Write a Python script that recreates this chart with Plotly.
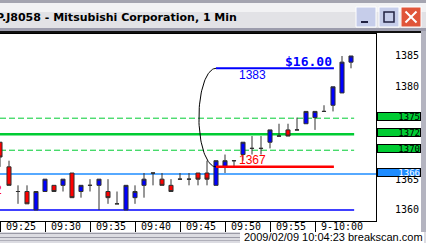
import math
import plotly.graph_objects as go

W, H = 426, 243
ML, MR, MT, MB = 0, 50, 34, 22
PW, PH = W - ML - MR, H - MT - MB
PLOT_BOTTOM = H - MB

# ---------------- data ----------------
minutes = list(range(40))  # minutes since 09:25
opens  = [1371, 1367, 1363, 1363, 1360, 1363, 1364, 1364, 1366, 1363,
          1364, 1364, 1363, 1361, 1360, 1362, 1364, 1366, 1365, 1364,
          1365, 1365, 1366, 1366, 1364, 1367, 1368, 1369, 1370, 1370,
          1371, 1372, 1373, 1373, 1374, 1375, 1376, 1377, 1379, 1384]
highs  = [1371, 1368, 1364, 1364, 1363, 1365, 1364, 1365, 1366, 1364,
          1365, 1365, 1365, 1363, 1364, 1364, 1366, 1366, 1366, 1365,
          1366, 1366, 1366, 1368, 1368, 1369, 1368, 1371, 1372, 1372,
          1373, 1374, 1374, 1375, 1376, 1376, 1377, 1380, 1385, 1385]
lows   = [1367, 1364, 1361, 1361, 1360, 1363, 1363, 1363, 1362, 1362,
          1363, 1360, 1361, 1361, 1360, 1361, 1362, 1364, 1364, 1363,
          1365, 1364, 1364, 1364, 1364, 1366, 1367, 1368, 1369, 1369,
          1370, 1372, 1372, 1373, 1374, 1373, 1376, 1376, 1379, 1383]
closes = [1368.6, 1364, 1363, 1361, 1363, 1365, 1363, 1365, 1362, 1364,
          1364, 1365, 1362, 1361, 1364, 1363, 1365, 1366, 1364, 1363,
          1365, 1365, 1365, 1365, 1368, 1368, 1368, 1371, 1370, 1370,
          1373, 1372, 1372, 1373, 1376, 1376, 1376, 1380, 1384, 1385]

tick_minutes = [0, 5, 10, 15, 20, 25, 30, 35]
tick_labels = ["09:25", "09:30", "09:35", "09:40", "09:45", "09:50", "09:55", "9-10:00"]
price_ticks = [1360, 1365, 1380, 1385]

dashed_levels = [1374.9, 1369.7]
solid_level = 1372.3
pivot_level = 1365.85
low_level = 1360.0
break_minute = 24
base_price = 1367
target_price = 1383
box_levels = [1374.9, 1372.3, 1369.7, 1365.85]
box_texts = ["1375", "1372", "1370", "1366"]
box_colors = ["#00cc33", "#00cc33", "#00cc33", "#1e8cff"]
box_text_colors = ["black", "black", "black", "white"]

title_text = "P.J8058 - Mitsubishi Corporation, 1 Min"
footer_text = "2009/02/09 10:04:23 breakscan.com"

# ---------------- layout constants ----------------
X_MIN, X_MAX = 0, PW / 9.0
Y_MIN, Y_MAX = 1358.21, 1388.57
LINE_END = minutes[-1] + 0.35
TARGET_END = 37.1
GREEN = "#00cc33"


def pp(x, y):
    return (x - ML) / PW, (PLOT_BOTTOM - y) / PH


fig = go.Figure()

fig.add_trace(go.Candlestick(
    x=minutes, open=opens, high=highs, low=lows, close=closes,
    increasing=dict(line=dict(color="#303030", width=1), fillcolor="#0000ff"),
    decreasing=dict(line=dict(color="#303030", width=1), fillcolor="#ff0000"),
    whiskerwidth=0, showlegend=False, hoverinfo="skip",
))

# arc joining base and target
n = 60
arc_x, arc_y = [], []
mid = (base_price + target_price) / 2
half = (target_price - base_price) / 2
for i in range(n + 1):
    t = math.pi * i / n
    arc_x.append(break_minute - 1.9 * math.sin(t))
    arc_y.append(mid + half * math.cos(t))
fig.add_trace(go.Scatter(x=arc_x, y=arc_y, mode="lines",
                         line=dict(color="black", width=1),
                         showlegend=False, hoverinfo="skip"))

shapes = []
for lv in dashed_levels:
    shapes.append(dict(type="line", xref="x", yref="y", x0=X_MIN, x1=LINE_END, y0=lv, y1=lv,
                       line=dict(color=GREEN, width=1, dash="6px,3px"), layer="below"))
shapes.append(dict(type="line", xref="x", yref="y", x0=X_MIN, x1=LINE_END, y0=solid_level, y1=solid_level,
                   line=dict(color=GREEN, width=2.5), layer="below"))
shapes.append(dict(type="line", xref="x", yref="y", x0=X_MIN, x1=X_MAX, y0=pivot_level, y1=pivot_level,
                   line=dict(color="#1e8cff", width=1.5), layer="below"))
shapes.append(dict(type="line", xref="x", yref="y", x0=X_MIN, x1=LINE_END, y0=low_level, y1=low_level,
                   line=dict(color="#0000ff", width=1.5), layer="below"))
shapes.append(dict(type="line", xref="x", yref="y", x0=break_minute, x1=TARGET_END, y0=base_price, y1=base_price,
                   line=dict(color="#ff0000", width=2.5)))
shapes.append(dict(type="line", xref="x", yref="y", x0=break_minute, x1=TARGET_END, y0=target_price, y1=target_price,
                   line=dict(color="#0000ff", width=2)))


def prect(x0, y0, x1, y1, fill, line_color=None, lw=0):
    a = pp(x0, y0)
    b = pp(x1, y1)
    return dict(type="rect", xref="paper", yref="paper", x0=a[0], y0=a[1], x1=b[0], y1=b[1],
                fillcolor=fill, line=dict(color=line_color or fill, width=lw), layer="above")


def pline(x0, y0, x1, y1, color, lw=1):
    a = pp(x0, y0)
    b = pp(x1, y1)
    return dict(type="line", xref="paper", yref="paper", x0=a[0], y0=a[1], x1=b[0], y1=b[1],
                line=dict(color=color, width=lw), layer="above")


# window chrome: title bar
shapes.append(prect(0, 0, W, 3, "#a4a4b0"))
shapes.append(prect(0, 3, W, 12, "#f2f2f4"))
shapes.append(prect(0, 12, W, 28, "#e2e2e6"))
shapes.append(prect(0, 28, W, 31, "#9c9cac"))
shapes.append(prect(0, 31, W, 33, "#101010"))
for bx, fill in [(356, "#c6cdea"), (379, "#c6cdea"), (401, "#e0553a")]:
    shapes.append(prect(bx, 7, bx + 20, 27, fill, "#ffffff", 1))
shapes.append(pline(361, 22, 368, 22, "#202040", 2))
shapes.append(prect(384, 12, 394, 22, "rgba(0,0,0,0)", "#202040", 1.5))
shapes.append(pline(405.5, 11.5, 416.5, 22.5, "white", 2))
shapes.append(pline(405.5, 22.5, 416.5, 11.5, "white", 2))
# right border and status bar
shapes.append(prect(421, 31, W, H, "#b4b4c0"))
shapes.append(prect(0, 232, W, H, "#dcdce2"))
shapes.append(pline(0, 233.5, 240, 233.5, "#9a9aa6", 1))
shapes.append(pline(0, 237.5, 240, 237.5, "#9a9aa6", 1))
shapes.append(pline(0, 240.5, 240, 240.5, "#b0b0ba", 1))
shapes.append(prect(240, 232, 424, H, "white"))

annotations = []
tx, ty = pp(-6, 17)
annotations.append(dict(text="<b>" + title_text + "</b>", xref="paper", yref="paper", x=tx, y=ty,
                        xanchor="left", yanchor="middle", showarrow=False,
                        font=dict(family="DejaVu Sans", size=11, color="black")))
_, ly = pp(0, 227)
for m, lab in zip(tick_minutes, tick_labels):
    annotations.append(dict(text=lab, xref="x", yref="paper", x=m, y=ly, xshift=3.5,
                            xanchor="left", yanchor="middle", showarrow=False,
                            font=dict(family="DejaVu Sans Mono", size=10, color="black")))
bx0, _ = pp(377, 0)
for lv, txt, col, tcol in zip(box_levels, box_texts, box_colors, box_text_colors):
    annotations.append(dict(text=txt, xref="paper", yref="y", x=bx0, y=lv, yshift=1.5,
                            xanchor="left", yanchor="middle", showarrow=False,
                            width=42, height=7, align="right", valign="middle",
                            bgcolor=col, bordercolor="black", borderwidth=1, borderpad=0,
                            font=dict(family="DejaVu Sans Mono", size=9, color=tcol)))
annotations.append(dict(text="<b>$%.2f</b>" % (target_price - base_price), xref="x", yref="y",
                        x=TARGET_END, y=target_price, yshift=7, xanchor="right", yanchor="middle",
                        showarrow=False, font=dict(family="DejaVu Sans Mono", size=13, color="#0000ff")))
annotations.append(dict(text=str(target_price), xref="x", yref="y", x=break_minute, xshift=21,
                        y=target_price, yshift=-7, xanchor="left", yanchor="middle", showarrow=False,
                        font=dict(family="Liberation Sans", size=12, color="#0000ff")))
annotations.append(dict(text=str(base_price), xref="x", yref="y", x=break_minute, xshift=21,
                        y=base_price, yshift=7, xanchor="left", yanchor="middle", showarrow=False,
                        font=dict(family="Liberation Sans", size=12, color="#ff0000")))
lx, lyy = pp(3.5, 189.5)
annotations.append(dict(text="1362", xref="paper", yref="paper", x=lx, y=lyy,
                        xanchor="right", yanchor="middle", showarrow=False,
                        font=dict(family="Liberation Sans", size=12, color="#ff0000")))
fx, fy = pp(424, 237.5)
annotations.append(dict(text=footer_text, xref="paper", yref="paper", x=fx, y=fy,
                        xanchor="right", yanchor="middle", showarrow=False, borderpad=0,
                        font=dict(family="Liberation Sans", size=11, color="black")))

fig.update_layout(
    width=W, height=H,
    margin=dict(l=ML, r=MR, t=MT, b=MB, pad=0),
    paper_bgcolor="white", plot_bgcolor="white",
    showlegend=False,
    boxgap=0.36,
    shapes=shapes,
    annotations=annotations,
    xaxis=dict(range=[X_MIN, X_MAX], tickvals=tick_minutes, ticks="outside", ticklen=11,
               tickwidth=1, tickcolor="black", showticklabels=False, showgrid=False,
               zeroline=False, showline=True, linecolor="black", linewidth=1, mirror=True,
               rangeslider=dict(visible=False), fixedrange=True),
    yaxis=dict(range=[Y_MIN, Y_MAX], side="right", tickvals=price_ticks, ticks="outside",
               ticklen=16, tickcolor="rgba(0,0,0,0)", showgrid=False, zeroline=False,
               showline=True, linecolor="black", linewidth=1,
               tickfont=dict(family="DejaVu Sans Mono", size=10, color="black")),
)

fig.write_html("out.html")
